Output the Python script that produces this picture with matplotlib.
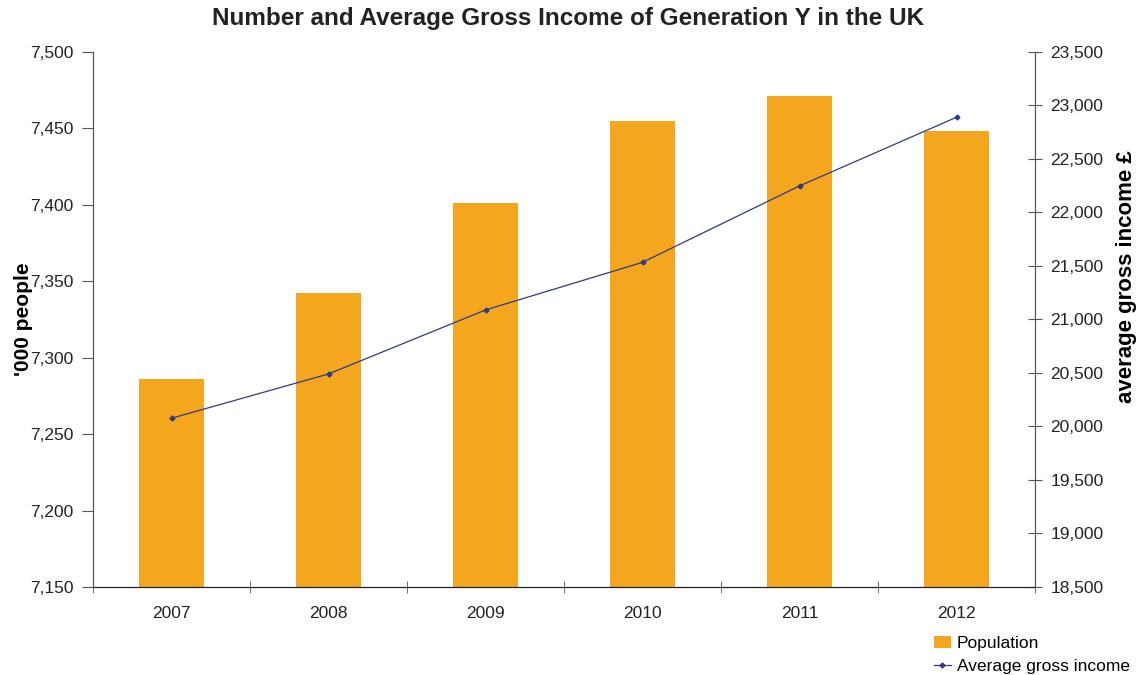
import numpy as np
import matplotlib
matplotlib.use("Agg")
from matplotlib import pyplot as plt
from matplotlib.ticker import FuncFormatter, FixedLocator

plt.rcParams['font.family'] = ['Liberation Sans', 'DejaVu Sans']

years = ["2007", "2008", "2009", "2010", "2011", "2012"]
population = [7286, 7342, 7401, 7455, 7471, 7448]   # '000 people
income = [20077, 20491, 21089, 21534, 22248, 22890]  # average gross income £

bar_color = "#F5A61F"
line_color = "#2E3A87"
axis_color = "#555555"

fig = plt.figure(figsize=(11.37, 6.75), dpi=100)
ax = fig.add_axes([0.0818, 0.1304, 0.8285, 0.7926])
ax2 = ax.twinx()

x = np.arange(len(years))
bars = ax.bar(x, population, width=0.41, color=bar_color, label="Population", zorder=2)
line, = ax2.plot(x, income, color=line_color, lw=0.9, marker="D", markersize=2.5,
                 label="Average gross income", zorder=3)

ax.set_xlim(-0.5, len(years) - 0.5)
ax.set_ylim(7150, 7500)
ax.set_yticks(np.arange(7150, 7501, 50))
ax2.set_ylim(18500, 23500)
ax2.set_yticks(np.arange(18500, 23501, 500))

fmt = FuncFormatter(lambda v, p: "{:,.0f}".format(v))
ax.yaxis.set_major_formatter(fmt)
ax2.yaxis.set_major_formatter(fmt)

ax.set_xticks(x)
ax.set_xticklabels(years)
ax.xaxis.set_minor_locator(FixedLocator(np.arange(-0.5, len(years), 1.0)))
ax.tick_params(axis="x", which="major", length=0, pad=14, labelsize=12.5, colors="#222222")
ax.tick_params(axis="x", which="minor", length=9, direction="inout", color=axis_color)
ax.tick_params(axis="y", length=8, direction="out", labelsize=12.5, color=axis_color,
               labelcolor="#222222", pad=6)
ax2.tick_params(axis="y", length=10, direction="inout", labelsize=12.5, color=axis_color,
                labelcolor="#222222", pad=6)

for a in (ax, ax2):
    a.spines["top"].set_visible(False)
    a.spines["left"].set_color(axis_color)
    a.spines["right"].set_color(axis_color)
    a.spines["bottom"].set_color("#222222")

ax.set_ylabel("'000 people", fontsize=15, fontweight="bold", labelpad=-2)
ax2.set_ylabel("average gross income £", fontsize=16, fontweight="bold")
ax2.yaxis.set_label_coords(1.086, 0.58)

fig.suptitle("Number and Average Gross Income of Generation Y in the UK",
             fontsize=17.5, fontweight="bold", color="#222222", y=0.99)

fig.legend(handles=[bars, line], loc="upper left", bbox_to_anchor=(0.815, 0.068),
           frameon=False, fontsize=12.5, handlelength=1.0, handletextpad=0.35,
           labelspacing=0.45, borderaxespad=0)

fig.savefig("out.png", dpi=100)
